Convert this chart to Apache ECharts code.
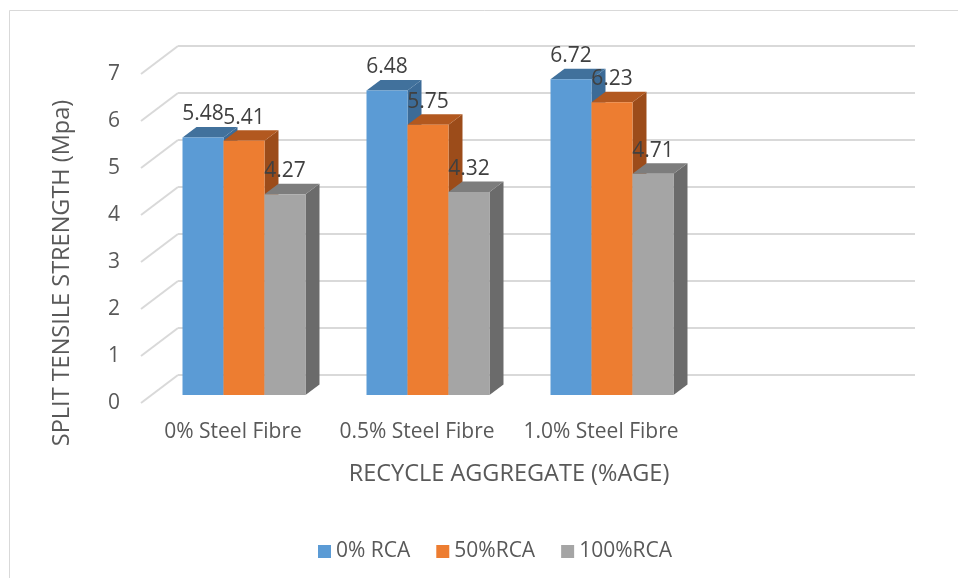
<!DOCTYPE html>
<html>
<head>
<meta charset="utf-8">
<script src="https://cdn.jsdelivr.net/npm/echarts@6/dist/echarts.min.js"></script>
<style>
  html, body { margin: 0; padding: 0; background: #fff; }
  #chart { width: 958px; height: 578px; }
</style>
</head>
<body>
<div id="chart"></div>
<script>
// Split tensile strength by steel fibre content and RCA replacement level
const categories = ['0% Steel Fibre', '0.5% Steel Fibre', '1.0% Steel Fibre', ''];
const seriesNames = ['0% RCA', '50%RCA', '100%RCA'];
const rca0 = [5.48, 6.48, 6.72];
const rca50 = [5.41, 5.75, 6.23];
const rca100 = [4.27, 4.32, 4.71];
const yTicks = [0, 1, 2, 3, 4, 5, 6, 7];

const FONT = "'Open Sans', 'Liberation Sans', sans-serif";
// depth direction of the pseudo-3D box (front plane -> back wall)
const DEPTH_X = 37, DEPTH_Y = -28;
// bars sit a little behind the front plane and have their own depth
const BAR_OFF_X = 11, BAR_OFF_Y = -8;
const BAR_D_X = 14, BAR_D_Y = -10.5;

const palettes = [
  { front: '#5b9bd5', top: '#41719c', side: '#3c6b97' },
  { front: '#ed7d31', top: '#b2581f', side: '#9c4c1a' },
  { front: '#a5a5a5', top: '#7d7d7d', side: '#6b6b6b' }
];

function barRenderer(idx) {
  const pal = palettes[idx];
  return function (params, api) {
    const cat = api.value(0);
    const v = api.value(1);
    const base = api.coord([cat, 0]);
    const top = api.coord([cat, v]);
    const band = api.size([1, 0])[0];
    const bw = band * 0.2228;
    const cx = base[0] + BAR_OFF_X + (idx - 1) * bw;
    const xl = cx - bw / 2, xr = cx + bw / 2;
    const yb = base[1] + BAR_OFF_Y, yt = top[1] + BAR_OFF_Y;
    return {
      type: 'group',
      children: [
        { type: 'polygon', shape: { points: [[xr, yt], [xr + BAR_D_X, yt + BAR_D_Y], [xr + BAR_D_X, yb + BAR_D_Y], [xr, yb]] }, style: { fill: pal.side } },
        { type: 'polygon', shape: { points: [[xl, yt], [xl + BAR_D_X, yt + BAR_D_Y], [xr + BAR_D_X, yt + BAR_D_Y], [xr, yt]] }, style: { fill: pal.top } },
        { type: 'rect', shape: { x: xl, y: yt, width: bw, height: yb - yt }, style: { fill: pal.front } },
        { type: 'text', x: cx, y: yt - 23, style: { text: v.toFixed(2), fill: '#404040', font: '21px ' + FONT, align: 'center', verticalAlign: 'middle' } }
      ]
    };
  };
}

function diagRenderer(params, api) {
  const v = api.value(1);
  const y = api.coord([0, v])[1];
  const x = params.coordSys.x;
  return {
    type: 'line',
    shape: { x1: x, y1: y, x2: x + DEPTH_X, y2: y + DEPTH_Y },
    style: { stroke: '#d9d9d9', lineWidth: 2 }
  };
}

const valueSets = [rca0, rca50, rca100];
const barSeries = valueSets.map((vals, i) => ({
  name: seriesNames[i],
  type: 'custom',
  xAxisIndex: 0,
  yAxisIndex: 0,
  itemStyle: { color: palettes[i].front },
  renderItem: barRenderer(i),
  data: vals.map((v, k) => [k, v]),
  z: 5
}));

const chart = echarts.init(document.getElementById('chart'), null, { renderer: 'canvas' });
chart.setOption({
  backgroundColor: '#ffffff',
  animation: false,
  textStyle: { fontFamily: FONT },
  graphic: [
    { type: 'rect', shape: { x: 9.5, y: 10.5, width: 1000, height: 1000 }, style: { fill: 'none', stroke: '#d9d9d9', lineWidth: 1 }, z: -10 },
    { type: 'text', x: 62, y: 273, rotation: Math.PI / 2, style: { text: 'SPLIT TENSILE STRENGTH (Mpa)', fill: '#595959', font: '23.5px ' + FONT, align: 'center', verticalAlign: 'middle' } }
  ],
  grid: [
    { left: 141, top: 74, width: 736, height: 329 },
    { left: 178, top: 46, width: 737, height: 329 }
  ],
  xAxis: [
    {
      type: 'category', gridIndex: 0, data: categories,
      axisLine: { show: false }, axisTick: { show: false },
      axisLabel: { color: '#595959', fontSize: 21, fontFamily: FONT, margin: 19, interval: 0 },
      name: 'RECYCLE AGGREGATE (%AGE)', nameLocation: 'middle', nameGap: 59,
      nameTextStyle: { color: '#595959', fontSize: 23.5, fontFamily: FONT }
    },
    { type: 'category', gridIndex: 1, data: categories, show: false }
  ],
  yAxis: [
    {
      type: 'value', gridIndex: 0, min: 0, max: 7, interval: 1,
      axisLine: { show: false }, axisTick: { show: false }, splitLine: { show: false },
      axisLabel: { color: '#595959', fontSize: 21, fontFamily: FONT, margin: 21 }
    },
    {
      type: 'value', gridIndex: 1, min: 0, max: 7, interval: 1,
      axisLine: { show: false }, axisTick: { show: false }, axisLabel: { show: false },
      splitLine: { show: true, lineStyle: { color: '#d9d9d9', width: 2 } }
    }
  ],
  legend: {
    data: seriesNames,
    left: 313, top: 536,
    icon: 'rect', itemWidth: 13, itemHeight: 13, itemGap: 26,
    textStyle: { color: '#595959', fontSize: 21, fontFamily: FONT }
  },
  series: [
    {
      type: 'custom', xAxisIndex: 0, yAxisIndex: 0,
      renderItem: diagRenderer,
      data: yTicks.map(t => [0, t]),
      silent: true, z: 1
    }
  ].concat(barSeries)
});
</script>
</body>
</html>
